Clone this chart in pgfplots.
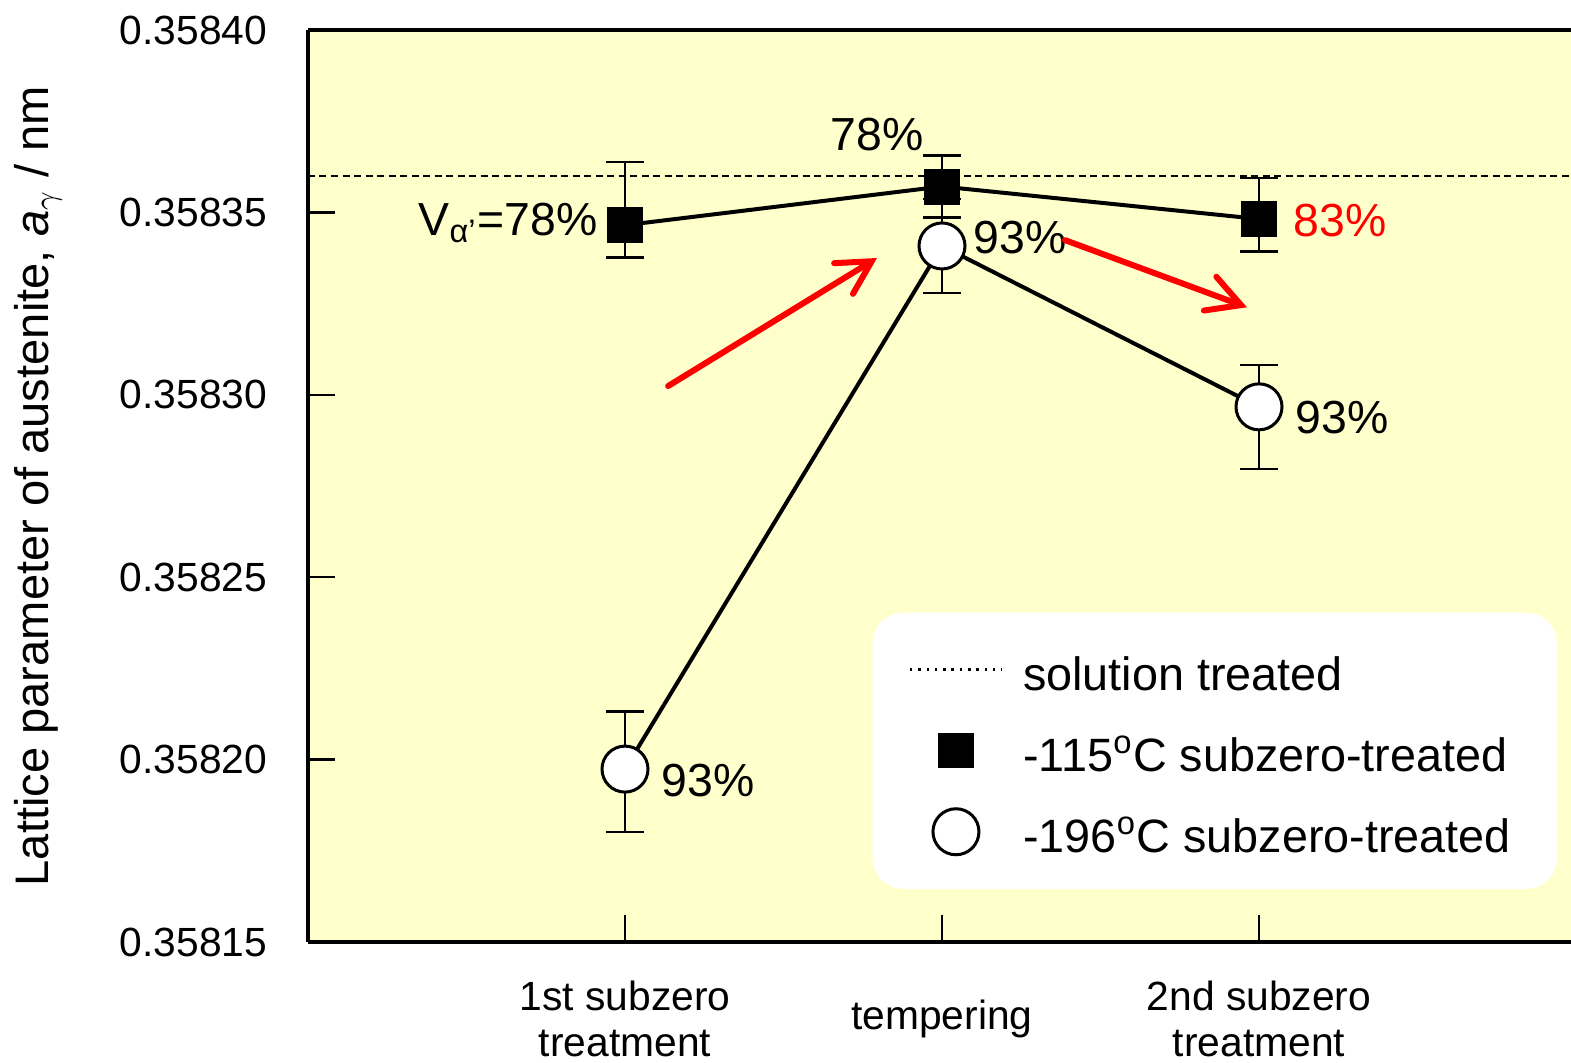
\documentclass[border=0pt]{standalone}
\usepackage{pgfplots}
\pgfplotsset{compat=1.18}
\usepackage{fontspec}
\setmainfont{Liberation Sans}
\usetikzlibrary{arrows.meta}
\definecolor{panel}{RGB}{255,255,204}
\definecolor{arrowred}{RGB}{255,0,0}
\pgfplotsset{
  centered mark legend/.style={
    legend image code/.code={\draw[sharp corners,##1] plot coordinates {(0.46cm,0cm)};}},
  dotted legend/.style={
    legend image code/.code={\draw[sharp corners, black, line width=0.025cm,
      dash pattern=on 0.025cm off 0.058cm] (0cm,0cm) -- (0.92cm,0cm);}},
}

\begin{document}
\begin{tikzpicture}
\begin{axis}[
  name=ax,
  scale only axis,
  width=12.68cm, height=9.12cm,
  xmin=0, xmax=4,
  ymin=0.35815, ymax=0.35840,
  axis background/.style={fill=panel},
  axis x line*=box, axis y line*=left,
  axis line style={line width=0.04cm, black},
  xtick pos=left, ytick pos=left,
  tick align=inside,
  major tick length=0.27cm,
  every tick/.style={black, line width=0.025cm},
  xtick={1,2,3},
  xticklabels={{1st subzero\\treatment},{tempering},{2nd subzero\\treatment}},
  xticklabel style={align=center, anchor=center, inner sep=0pt, yshift=-0.77cm,
    font=\fontsize{11.6}{13.3}\selectfont},
  ytick={0.35815,0.3582,0.35825,0.3583,0.35835,0.3584},
  scaled y ticks=false,
  yticklabel style={/pgf/number format/.cd, fixed, fixed zerofill, precision=5,
    assume math mode=true, /tikz/.cd, anchor=east, inner sep=0pt, xshift=-0.40cm,
    font=\fontsize{11.6}{13.3}\selectfont},
  ylabel={Lattice parameter of austenite, \textit{a}$_{\gamma}$ / nm},
  every axis y label/.style={at={(axis description cs:-0.213,0.5)}, rotate=90,
    anchor=center, font=\fontsize{13.4}{15}\selectfont},
  clip=false,
  legend cell align=left,
  legend style={
    at={(axis description cs:0.4448,0.3618)}, anchor=north west,
    fill=white, draw=none, rounded corners=0.3cm,
    font=\fontsize{13.3}{15}\selectfont,
    inner xsep=0.36cm, inner ysep=0.3cm,
    row sep=0.27cm, column sep=0.2cm,
    nodes={inner sep=0pt, text height=0.48cm, text depth=0.06cm}
  },
]

% solution-treated reference level
\addplot[black, line width=0.02cm, dash pattern=on 0.07cm off 0.045cm, forget plot]
  coordinates {(0,0.35836) (4,0.35836)};

% -115 C subzero-treated series
\addplot[black, line width=0.04cm, mark=square*, mark size=0.17cm,
  mark options={solid, fill=black, line width=0.02cm}, forget plot,
  error bars/.cd, y dir=both, y explicit,
  error bar style={line width=0.025cm, black},
  error mark options={rotate=90, mark size=0.19cm, line width=0.025cm, black}]
  coordinates {
    (1,0.3583465) += (0,0.0000173) -= (0,0.0000088)
    (2,0.3583571) += (0,0.0000085) -= (0,0.0000085)
    (3,0.3583482) += (0,0.0000112) -= (0,0.0000090)
  };

% -196 C subzero-treated series
\addplot[black, line width=0.04cm, mark=*, mark size=0.23cm,
  mark options={solid, fill=white, line width=0.03cm}, forget plot,
  error bars/.cd, y dir=both, y explicit,
  error bar style={line width=0.025cm, black},
  error mark options={rotate=90, mark size=0.19cm, line width=0.025cm, black}]
  coordinates {
    (1,0.3581974) += (0,0.0000158) -= (0,0.0000172)
    (2,0.3583408) += (0,0.0000129) -= (0,0.0000129)
    (3,0.3582967) += (0,0.0000115) -= (0,0.0000170)
  };

% volume fractions of martensite
\node[anchor=base east, inner sep=0pt, font=\fontsize{13.2}{15}\selectfont]
  at (axis cs:0.915,0.3583438) {V\textsubscript{α’}=78\%};
\node[anchor=base west, inner sep=0pt, font=\fontsize{13.2}{15}\selectfont]
  at (axis cs:1.647,0.3583671) {78\%};
\node[anchor=base west, inner sep=0pt, font=\fontsize{13.2}{15}\selectfont]
  at (axis cs:2.098,0.3583386) {93\%};
\node[anchor=base west, inner sep=0pt, font=\fontsize{13.2}{15}\selectfont, text=arrowred]
  at (axis cs:3.107,0.3583433) {83\%};
\node[anchor=base west, inner sep=0pt, font=\fontsize{13.2}{15}\selectfont]
  at (axis cs:3.114,0.3582895) {93\%};
\node[anchor=base west, inner sep=0pt, font=\fontsize{13.2}{15}\selectfont]
  at (axis cs:1.1136,0.3581898) {93\%};

% trend arrows
\draw[arrowred, line width=0.06cm, line cap=round,
  -{Straight Barb[length=0.33cm, width=0.36cm, line cap=round]}]
  (axis cs:1.136,0.3583024) -- (axis cs:1.795,0.3583375);
\draw[arrowred, line width=0.06cm, line cap=round,
  -{Straight Barb[length=0.33cm, width=0.36cm, line cap=round]}]
  (axis cs:2.388,0.3583424) -- (axis cs:2.962,0.3583240);

% legend
\addlegendimage{dotted legend}
\addlegendentry{solution treated\hspace*{0.1cm}}
\addlegendimage{only marks, mark=square*, mark size=0.17cm, black, centered mark legend}
\addlegendentry{-115\textsuperscript{o}C subzero-treated\hspace*{0.1cm}}
\addlegendimage{only marks, mark=*, mark size=0.23cm, black,
  mark options={fill=white, line width=0.03cm}, centered mark legend}
\addlegendentry{-196\textsuperscript{o}C subzero-treated\hspace*{0.1cm}}
\end{axis}
\pgfresetboundingbox
\path[use as bounding box] ([xshift=-3.08cm,yshift=-1.20cm]ax.south west)
  rectangle ([xshift=12.63cm,yshift=0.30cm]ax.north west);
\end{tikzpicture}
\end{document}
